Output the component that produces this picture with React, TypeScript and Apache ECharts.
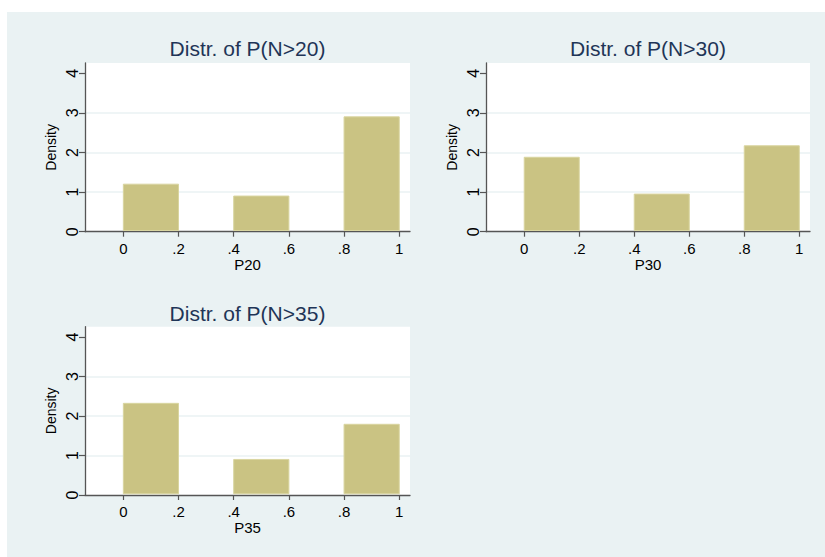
import React, { useEffect, useRef } from "react";
import * as echarts from "echarts";

// ---- data ----
const binStarts = [0, 0.4, 0.8];
const binEnds = [0.2, 0.6, 1.0];
const densityP20 = [1.2, 0.9, 2.9];
const densityP30 = [1.88, 0.95, 2.17];
const densityP35 = [2.32, 0.9, 1.79];
const xTickValues = [0, 0.2, 0.4, 0.6, 0.8, 1];
const yTickValues = [0, 1, 2, 3, 4];
const panelTitles = ["Distr. of P(N>20)", "Distr. of P(N>30)", "Distr. of P(N>35)"];
const xNames = ["P20", "P30", "P35"];
const yName = "Density";

const BG = "#eaf2f3";
const AXIS = "#555555";
const BAR = "#cac383";
const BAR_EDGE = "#d9d5a0";
const TITLE = "#1f3557";
const FONT = "Liberation Sans, Arial, sans-serif";

const grids = [
  { left: 85, top: 63, width: 325, height: 168.7 },
  { left: 486, top: 63, width: 324, height: 168.7 },
  { left: 85, top: 326.7, width: 325, height: 168.3 },
];

const fmtX = (v: number) => {
  if (v === 0) return "0";
  if (v === 1) return "1";
  return String(Math.round(v * 10) / 10).replace(/^0/, "");
};

export default function App() {
  const ref = useRef<HTMLDivElement>(null);
  useEffect(() => {
    if (!ref.current) return;
    const chart = echarts.init(ref.current, null, { renderer: "svg" });
    const datasets = [densityP20, densityP30, densityP35];

    const xAxes = grids.map((_, i) => ({
      type: "value",
      gridIndex: i,
      min: -0.139,
      max: 1.039,
      name: xNames[i],
      nameLocation: "middle",
      nameGap: 22,
      nameTextStyle: { fontFamily: FONT, fontSize: 15, color: "#000" },
      axisLine: { show: true, onZero: false, lineStyle: { color: AXIS, width: 1.3 } },
      axisTick: { show: true, length: 5, customValues: xTickValues, lineStyle: { color: AXIS, width: 1.2 } },
      axisLabel: {
        customValues: xTickValues,
        formatter: (v: number) => fmtX(v),
        fontFamily: FONT,
        fontSize: 15,
        color: "#000",
        margin: 9,
      },
      splitLine: { show: false },
    }));

    const yAxes = grids.map((_, i) => ({
      type: "value",
      gridIndex: i,
      min: 0,
      max: 4.26,
      name: yName,
      nameLocation: "middle",
      nameRotate: 90,
      nameGap: 27,
      nameTextStyle: { fontFamily: FONT, fontSize: 14, color: "#000" },
      axisLine: { show: true, onZero: false, lineStyle: { color: AXIS, width: 1.3 } },
      axisTick: { show: true, length: 6, customValues: yTickValues, lineStyle: { color: AXIS, width: 1.2 } },
      axisLabel: {
        customValues: yTickValues,
        rotate: 90,
        fontFamily: FONT,
        fontSize: 16,
        color: "#000",
        margin: 5,
      },
      splitLine: {
        show: true,
        lineStyle: {
          color: ["rgba(0,0,0,0)", BG, BG, BG, "rgba(0,0,0,0)", "rgba(0,0,0,0)"],
          width: 1.5,
        },
      },
    }));

    const series = datasets.map((vals, i) => ({
      type: "custom",
      xAxisIndex: i,
      yAxisIndex: i,
      z: 2,
      encode: { x: [0, 1], y: 2 },
      data: vals.map((v, k) => [binStarts[k], binEnds[k], v]),
      renderItem: (params: any, api: any) => {
        const p0 = api.coord([api.value(0), 0]);
        const p1 = api.coord([api.value(1), api.value(2)]);
        const bottom = p0[1] - 1.2;
        return {
          type: "rect",
          shape: { x: p0[0], y: p1[1], width: p1[0] - p0[0], height: bottom - p1[1] },
          style: { fill: BAR, stroke: BAR_EDGE, lineWidth: 1 },
        };
      },
    }));

    const titleY = [48.3, 48.3, 313.7];
    const titles = grids.map((g, i) => ({
      type: "text",
      x: g.left + g.width / 2,
      y: titleY[i],
      z: 10,
      style: {
        text: panelTitles[i],
        fontFamily: FONT,
        fontSize: 21,
        fill: TITLE,
        textAlign: "center",
        textVerticalAlign: "middle",
      },
    }));

    chart.setOption({
      animation: false,
      backgroundColor: BG,
      grid: grids.map((g) => ({
        ...g,
        show: true,
        backgroundColor: "#ffffff",
        borderWidth: 0,
        containLabel: false,
      })),
      xAxis: xAxes,
      yAxis: yAxes,
      series,
      graphic: [
        { type: "rect", shape: { x: 0, y: 0, width: 825, height: 12 }, style: { fill: "#ffffff" }, z: 10 },
        { type: "rect", shape: { x: 0, y: 0, width: 7, height: 557 }, style: { fill: "#ffffff" }, z: 10 },
        ...titles,
      ],
    });
    return () => chart.dispose();
  }, []);
  return (
    <div
      ref={ref}
      style={{ position: "fixed", left: 0, top: 0, width: 825, height: 557 }}
    />
  );
}
